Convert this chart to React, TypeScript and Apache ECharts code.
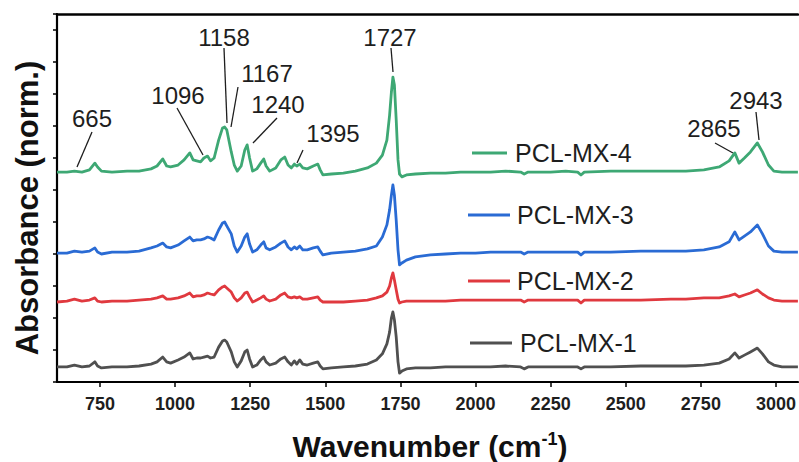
import React, { useEffect, useRef } from "react";
import * as echarts from "echarts";

// Wavenumber grid (cm^-1)
const WAVENUMBERS = [
  607, 640, 665, 690, 715, 733, 742, 755, 790, 840,
  880, 920, 940, 959, 972, 985, 1010, 1030, 1049, 1060,
  1072, 1085, 1096, 1108, 1118, 1130, 1145, 1158, 1165, 1172,
  1187, 1197, 1207, 1220, 1232, 1240, 1248, 1258, 1272, 1285,
  1295, 1303, 1315, 1335, 1352, 1365, 1376, 1387, 1397, 1405,
  1415, 1425, 1440, 1460, 1475, 1483, 1492, 1520, 1560, 1600,
  1640, 1670, 1690, 1705, 1714, 1720, 1725, 1730, 1736, 1742,
  1747, 1755, 1770, 1800, 1850, 1900, 1950, 2000, 2050, 2100,
  2150, 2162, 2175, 2250, 2300, 2340, 2351, 2362, 2450, 2550,
  2650, 2700, 2760, 2811, 2844, 2863, 2877, 2895, 2915, 2938,
  2955, 2975, 2993, 3020, 3073,
];

// Stacked, normalised absorbance (arbitrary offset units)
const PCL_MX_4 = [
  6.56, 6.56, 6.59, 6.56, 6.63, 6.84, 6.72, 6.59, 6.56, 6.59,
  6.59, 6.66, 6.75, 6.97, 6.75, 6.72, 6.78, 6.94, 7.16, 6.94,
  6.91, 6.88, 7.0, 7.06, 6.91, 7.0, 7.56, 7.94, 7.97, 7.88,
  7.19, 6.78, 6.59, 6.75, 7.25, 7.41, 7.0, 6.59, 6.66, 6.84,
  6.97, 6.75, 6.59, 6.69, 6.94, 7.03, 6.78, 6.69, 6.81, 6.75,
  6.81, 6.69, 6.66, 6.75, 6.81, 6.63, 6.47, 6.5, 6.53, 6.59,
  6.69, 6.84, 7.09, 7.56, 8.34, 9.06, 9.53, 9.28, 8.19, 6.94,
  6.5, 6.41, 6.47, 6.5, 6.53, 6.53, 6.56, 6.56, 6.56, 6.59,
  6.56, 6.5, 6.56, 6.56, 6.59, 6.56, 6.47, 6.56, 6.59, 6.59,
  6.59, 6.59, 6.63, 6.72, 6.91, 7.16, 6.84, 7.0, 7.19, 7.47,
  7.19, 6.78, 6.59, 6.56, 6.56,
];
const PCL_MX_3 = [
  4.03, 4.03, 4.09, 4.06, 4.09, 4.19, 4.06, 4.0, 4.06, 4.06,
  4.09, 4.19, 4.25, 4.34, 4.22, 4.19, 4.28, 4.41, 4.53, 4.41,
  4.44, 4.44, 4.47, 4.53, 4.5, 4.44, 4.75, 4.97, 5.0, 4.88,
  4.63, 4.25, 4.06, 4.25, 4.53, 4.63, 4.31, 4.06, 4.13, 4.28,
  4.38, 4.19, 4.13, 4.22, 4.34, 4.41, 4.22, 4.13, 4.22, 4.16,
  4.25, 4.13, 4.13, 4.19, 4.22, 4.09, 3.97, 4.03, 4.06, 4.09,
  4.16, 4.25, 4.53, 4.91, 5.38, 5.84, 6.16, 5.84, 5.06, 4.13,
  3.66, 3.72, 3.81, 3.91, 3.97, 4.0, 4.03, 4.03, 4.06, 4.06,
  4.06, 4.0, 4.06, 4.06, 4.06, 4.06, 3.97, 4.06, 4.06, 4.09,
  4.09, 4.09, 4.13, 4.22, 4.38, 4.69, 4.44, 4.56, 4.69, 4.91,
  4.63, 4.25, 4.09, 4.06, 4.06,
];
const PCL_MX_2 = [
  2.5, 2.53, 2.59, 2.53, 2.56, 2.63, 2.53, 2.5, 2.53, 2.53,
  2.56, 2.59, 2.63, 2.69, 2.59, 2.59, 2.63, 2.69, 2.78, 2.66,
  2.69, 2.69, 2.72, 2.78, 2.75, 2.72, 2.88, 2.97, 3.0, 2.94,
  2.81, 2.63, 2.53, 2.63, 2.78, 2.81, 2.66, 2.5, 2.56, 2.63,
  2.69, 2.59, 2.53, 2.59, 2.72, 2.78, 2.66, 2.63, 2.66, 2.63,
  2.66, 2.59, 2.59, 2.63, 2.66, 2.56, 2.5, 2.5, 2.5, 2.53,
  2.56, 2.63, 2.69, 2.81, 3.0, 3.25, 3.41, 3.19, 2.88, 2.59,
  2.47, 2.5, 2.53, 2.53, 2.53, 2.53, 2.56, 2.56, 2.56, 2.56,
  2.56, 2.5, 2.56, 2.56, 2.56, 2.56, 2.47, 2.56, 2.56, 2.56,
  2.59, 2.59, 2.63, 2.63, 2.69, 2.75, 2.66, 2.72, 2.78, 2.88,
  2.75, 2.63, 2.56, 2.53, 2.53,
];
const PCL_MX_1 = [
  0.47, 0.47, 0.53, 0.47, 0.5, 0.63, 0.5, 0.44, 0.47, 0.47,
  0.5, 0.56, 0.63, 0.78, 0.63, 0.59, 0.69, 0.78, 0.91, 0.72,
  0.75, 0.75, 0.78, 0.81, 0.75, 0.78, 1.09, 1.28, 1.31, 1.25,
  0.94, 0.63, 0.47, 0.66, 0.94, 1.0, 0.72, 0.47, 0.53, 0.69,
  0.78, 0.63, 0.53, 0.59, 0.72, 0.78, 0.63, 0.53, 0.66, 0.56,
  0.69, 0.56, 0.53, 0.59, 0.63, 0.5, 0.41, 0.44, 0.47, 0.5,
  0.56, 0.69, 0.88, 1.19, 1.56, 2.0, 2.19, 1.94, 1.41, 0.63,
  0.28, 0.34, 0.41, 0.44, 0.44, 0.47, 0.47, 0.47, 0.47, 0.5,
  0.47, 0.41, 0.47, 0.47, 0.47, 0.47, 0.41, 0.47, 0.47, 0.5,
  0.5, 0.5, 0.53, 0.59, 0.72, 0.91, 0.75, 0.84, 0.94, 1.06,
  0.88, 0.63, 0.53, 0.47, 0.47,
];

const SERIES_NAMES = ["PCL-MX-4", "PCL-MX-3", "PCL-MX-2", "PCL-MX-1"];
const SERIES_VALUES = [PCL_MX_4, PCL_MX_3, PCL_MX_2, PCL_MX_1];
const SERIES_COLORS = ["#3ea874", "#2a6bd4", "#e0393f", "#505050"];

const X_TICKS = [750, 1000, 1250, 1500, 1750, 2000, 2250, 2500, 2750, 3000];

const PEAK_LABELS = ["665", "1096", "1158", "1167", "1240", "1395", "1727", "2865", "2943"];

const FONT = "'Liberation Sans', Arial, Helvetica, sans-serif";

export default function App() {
  const ref = useRef<HTMLDivElement>(null);

  useEffect(() => {
    if (!ref.current) return;
    const chart = echarts.init(ref.current, undefined, { renderer: "svg" });

    const series = SERIES_NAMES.map((name, k) => ({
      name,
      type: "line",
      showSymbol: false,
      symbol: "none",
      data: WAVENUMBERS.map((w, i) => [w, SERIES_VALUES[k][i]]),
      lineStyle: { color: SERIES_COLORS[k], width: 2.8, join: "round" },
      itemStyle: { color: SERIES_COLORS[k] },
      clip: true,
    }));

    // annotation layout (text centre, leader line start, leader line end)
    const annLayout: Record<string, number[]> = {
      "665": [92, 118, 92, 132, 77, 167],
      "1096": [178, 95, 177, 108, 203, 155],
      "1158": [224, 37, 224, 48, 227, 123],
      "1167": [267, 73, 238, 87, 231, 127],
      "1240": [278, 104, 277, 118, 253, 143],
      "1395": [333, 133, 303, 150, 297, 163],
      "1727": [390, 37, 391, 48, 393, 72],
      "2865": [714, 128, 715, 143, 733, 153],
      "2943": [756, 100, 756, 112, 759, 140],
    };

    const annGraphics: any[] = [];
    PEAK_LABELS.forEach((lab) => {
      const a = annLayout[lab];
      annGraphics.push({
        type: "text",
        x: a[0],
        y: a[1],
        style: {
          text: lab,
          fontFamily: FONT,
          fontSize: 24,
          fill: "#1e1e1e",
          align: "center",
          verticalAlign: "middle",
        },
      });
      annGraphics.push({
        type: "line",
        shape: { x1: a[2], y1: a[3], x2: a[4], y2: a[5] },
        style: { stroke: "#1e1e1e", lineWidth: 1.3 },
      });
    });

    const legendLayout = [
      [472, 507, 153, 515],
      [468, 510, 215, 517],
      [468, 510, 281, 517],
      [470, 512, 343, 520],
    ];
    const legendGraphics: any[] = [];
    SERIES_NAMES.forEach((name, k) => {
      const l = legendLayout[k];
      legendGraphics.push({
        type: "line",
        shape: { x1: l[0], y1: l[2], x2: l[1], y2: l[2] },
        style: { stroke: SERIES_COLORS[k], lineWidth: 3 },
      });
      legendGraphics.push({
        type: "text",
        x: l[3],
        y: l[2],
        style: {
          text: name,
          fontFamily: FONT,
          fontSize: 25,
          fill: "#1e1e1e",
          align: "left",
          verticalAlign: "middle",
        },
      });
    });

    chart.setOption({
      animation: false,
      backgroundColor: "#ffffff",
      grid: { left: 57, right: 0, top: 14, bottom: 80, containLabel: false },
      xAxis: [
        {
          type: "value",
          min: 607,
          max: 3073,
          axisLine: { show: true, onZero: false, lineStyle: { color: "#000", width: 2.2 } },
          axisTick: {
            show: true,
            inside: false,
            length: 5,
            customValues: X_TICKS,
            lineStyle: { color: "#000", width: 1.5 },
          },
          axisLabel: {
            show: true,
            customValues: X_TICKS,
            formatter: (v: number) => String(v),
            margin: 13,
            fontFamily: FONT,
            fontSize: 18,
            fontWeight: "bold",
            color: "#1e1e1e",
          },
          splitLine: { show: false },
        },
        {
          type: "value",
          position: "top",
          min: 607,
          max: 3073,
          axisLine: { show: true, onZero: false, lineStyle: { color: "#000", width: 2.5 } },
          axisTick: { show: false },
          axisLabel: { show: false },
          splitLine: { show: false },
        },
      ],
      yAxis: {
        type: "value",
        min: 0,
        max: 11.5,
        interval: 1,
        axisLine: { show: true, onZero: false, lineStyle: { color: "#000", width: 2.2 } },
        axisTick: { show: true, inside: false, length: 4, lineStyle: { color: "#000", width: 1.5 } },
        axisLabel: { show: false },
        splitLine: { show: false },
      },
      series,
      graphic: [
        {
          type: "text",
          x: 430,
          y: 446,
          style: {
            text: "{a|Wavenumber (cm}{s|-1}{a|)}",
            align: "center",
            verticalAlign: "middle",
            rich: {
              a: { fontFamily: FONT, fontSize: 30, fontWeight: "bold", fill: "#111", color: "#111" },
              s: {
                fontFamily: FONT,
                fontSize: 18,
                fontWeight: "bold",
                fill: "#111",
                color: "#111",
                verticalAlign: "top",
                padding: [0, 0, 14, 0],
              },
            },
          },
        },
        {
          type: "text",
          x: 27,
          y: 208,
          rotation: Math.PI / 2,
          style: {
            text: "Absorbance (norm.)",
            fontFamily: FONT,
            fontSize: 31,
            fontWeight: "bold",
            fill: "#111",
            align: "center",
            verticalAlign: "middle",
          },
        },
        ...annGraphics,
        ...legendGraphics,
      ],
    });

    return () => chart.dispose();
  }, []);

  return (
    <div
      ref={ref}
      style={{ position: "fixed", left: 0, top: 0, width: 799, height: 462, background: "#fff" }}
    />
  );
}
